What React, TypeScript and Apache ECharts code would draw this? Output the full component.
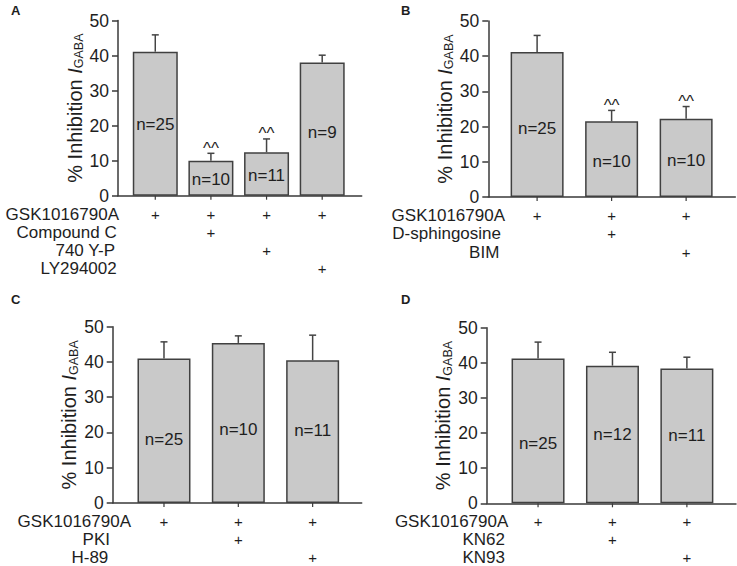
import React, { useEffect, useRef } from 'react';
import * as echarts from 'echarts';

const FONT = '"Liberation Sans", Arial, Helvetica, sans-serif';
const TEXT = '#1e1e1e';
const LINE = '#3a3a3a';

// ---------- DATA ----------
const panelLetters = ['A', 'B', 'C', 'D'];

const conditionsA = ['GSK1016790A', 'Compound C', '740 Y-P', 'LY294002'];
const meansA = [41.1, 10.0, 12.4, 38.0];
const semA = [4.8, 2.1, 3.8, 2.1];
const nA = [25, 10, 11, 9];
const nLabelYA = [20.4, 4.5, 5.8, 18.1];
const sigA = ['', '^^', '^^', ''];
const matrixA = [
  [1, 1, 1, 1],
  [0, 1, 0, 0],
  [0, 0, 1, 0],
  [0, 0, 0, 1],
];

const conditionsB = ['GSK1016790A', 'D-sphingosine', 'BIM'];
const meansB = [41.2, 21.5, 22.2];
const semB = [4.7, 3.1, 3.5];
const nB = [25, 10, 10];
const nLabelYB = [19.5, 10.0, 10.5];
const sigB = ['', '^^', '^^'];
const matrixB = [
  [1, 1, 1],
  [0, 1, 0],
  [0, 0, 1],
];

const conditionsC = ['GSK1016790A', 'PKI', 'H-89'];
const meansC = [41.0, 45.4, 40.5];
const semC = [4.7, 2.0, 7.1];
const nC = [25, 10, 11];
const nLabelYC = [18.1, 20.9, 20.5];
const sigC = ['', '', ''];
const matrixC = [
  [1, 1, 1],
  [0, 1, 0],
  [0, 0, 1],
];

const conditionsD = ['GSK1016790A', 'KN62', 'KN93'];
const meansD = [41.2, 39.2, 38.4];
const semD = [4.7, 3.8, 3.2];
const nD = [25, 12, 11];
const nLabelYD = [16.9, 19.6, 19.4];
const sigD = ['', '', ''];
const matrixD = [
  [1, 1, 1],
  [0, 1, 0],
  [0, 0, 1],
];

const yTicks = { min: 0, max: 50, interval: 10 };

// ---------- LAYOUT ----------
const layouts = [
  { left: 118, top: 20.5, width: 243.7, height: 175.2, xmin: -0.67, xmax: 3.71, barWidth: 45, nameGap: 31,
    letter: [11, 10], rowY: [214.5, 232, 250, 268], labelRight: [119, 116.7, 115, 116.7] },
  { left: 488.3, top: 21, width: 247, height: 176, xmin: -0.655, xmax: 2.66, barWidth: 53, nameGap: 30,
    letter: [401, 10], rowY: [215.7, 233.3, 252.3], labelRight: [505, 501, 499.3] },
  { left: 112.7, top: 326.7, width: 249, height: 176.3, xmin: -0.69, xmax: 2.66, barWidth: 53, nameGap: 26,
    letter: [11, 299], rowY: [521, 539.5, 557], labelRight: [131, 110, 108.3] },
  { left: 486.7, top: 327.7, width: 249.3, height: 175.6, xmin: -0.69, xmax: 2.66, barWidth: 53, nameGap: 28,
    letter: [401, 299], rowY: [521, 539, 557], labelRight: [508.3, 505, 505] },
];

const panels = [
  { conditions: conditionsA, means: meansA, sem: semA, n: nA, nY: nLabelYA, sig: sigA, matrix: matrixA },
  { conditions: conditionsB, means: meansB, sem: semB, n: nB, nY: nLabelYB, sig: sigB, matrix: matrixB },
  { conditions: conditionsC, means: meansC, sem: semC, n: nC, nY: nLabelYC, sig: sigC, matrix: matrixC },
  { conditions: conditionsD, means: meansD, sem: semD, n: nD, nY: nLabelYD, sig: sigD, matrix: matrixD },
];

function txt(x: number, y: number, text: string, size: number, align = 'center') {
  return {
    type: 'text', x, y, z2: 20,
    style: { text, fill: TEXT, fontSize: size, fontFamily: FONT, align, verticalAlign: 'middle', lineHeight: size - 2 },
  };
}

function buildOption() {
  const grid: any[] = [];
  const xAxis: any[] = [];
  const yAxis: any[] = [];
  const series: any[] = [];
  const graphic: any[] = [];

  panels.forEach((p, k) => {
    const L = layouts[k];
    grid.push({ left: L.left, top: L.top, width: L.width, height: L.height, containLabel: false });
    xAxis.push({
      type: 'value', gridIndex: k, min: L.xmin, max: L.xmax,
      axisLine: { show: true, onZero: true, lineStyle: { color: LINE, width: 1.5 } },
      axisTick: { show: false }, axisLabel: { show: false }, splitLine: { show: false },
    });
    yAxis.push({
      type: 'value', gridIndex: k, min: yTicks.min, max: yTicks.max, interval: yTicks.interval,
      axisLine: { show: true, onZero: false, lineStyle: { color: LINE, width: 1.5 } },
      axisTick: { show: true, length: 6, lineStyle: { color: LINE, width: 1.5 } },
      axisLabel: { color: TEXT, fontSize: 17.5, fontFamily: FONT, margin: 9, lineHeight: 15 },
      splitLine: { show: false },
      name: '{a|% Inhibition }{i|I}{s|GABA}',
      nameLocation: 'middle',
      nameGap: L.nameGap,
      nameTextStyle: {
        rich: {
          a: { fontSize: 20, fontFamily: FONT, color: TEXT, lineHeight: 22 },
          i: { fontSize: 20, fontFamily: FONT, color: TEXT, fontStyle: 'italic', lineHeight: 22 },
          s: { fontSize: 12.5, fontFamily: FONT, color: TEXT, verticalAlign: 'bottom' },
        },
      },
    });

    series.push({
      type: 'bar', xAxisIndex: k, yAxisIndex: k, barWidth: L.barWidth, z: 2,
      data: p.means.map((m, i) => [i, m]),
      itemStyle: { color: '#c9c9c9', borderColor: '#404040', borderWidth: 1.5 },
      silent: true,
    });

    series.push({
      type: 'custom', xAxisIndex: k, yAxisIndex: k, clip: false, silent: true, z: 10,
      data: p.means.map((m, i) => [i, m]),
      renderItem: (params: any, api: any) => {
        const idx = params.dataIndex;
        const mean = p.means[idx];
        const top = mean + p.sem[idx];
        const pMean = api.coord([idx, mean]);
        const cx = pMean[0];
        const yMean = pMean[1];
        const yTop = api.coord([idx, top])[1];
        const yN = api.coord([idx, p.nY[idx]])[1];
        const y0 = api.coord([idx, 0])[1];
        const ls = { stroke: '#444444', lineWidth: 1.5, fill: 'none' };
        const children: any[] = [
          { type: 'line', z2: 10, shape: { x1: cx, y1: yMean, x2: cx, y2: yTop }, style: ls },
          { type: 'line', z2: 10, shape: { x1: cx - 3.5, y1: yTop, x2: cx + 3.5, y2: yTop }, style: ls },
          { type: 'line', z2: 10, shape: { x1: cx, y1: y0, x2: cx, y2: y0 + 4 }, style: { stroke: LINE, lineWidth: 1.2, fill: 'none' } },
          txt(cx, yN, 'n=' + p.n[idx], 17),
        ];
        if (p.sig[idx]) children.push(txt(cx, yTop - 5, p.sig[idx], 17));
        p.matrix.forEach((row, r) => {
          if (row[idx]) children.push(txt(cx, L.rowY[r], '+', 15));
        });
        return { type: 'group', children };
      },
    });

    graphic.push({
      type: 'text', x: L.letter[0], y: L.letter[1],
      style: { text: panelLetters[k], fill: TEXT, fontSize: 13, fontWeight: 'bold', fontFamily: FONT, verticalAlign: 'middle' },
    });
    p.conditions.forEach((c, r) => {
      graphic.push({
        type: 'text', x: L.labelRight[r], y: L.rowY[r],
        style: { text: c, fill: TEXT, fontSize: 17, fontFamily: FONT, align: 'right', verticalAlign: 'middle', lineHeight: 14 },
      });
    });
  });

  return { animation: false, backgroundColor: '#ffffff', grid, xAxis, yAxis, series, graphic };
}

export default function App() {
  const ref = useRef<HTMLDivElement>(null);
  useEffect(() => {
    if (!ref.current) return;
    const chart = echarts.init(ref.current, undefined, { renderer: 'svg' });
    chart.setOption(buildOption() as any);
    return () => chart.dispose();
  }, []);
  return (
    <div
      ref={ref}
      style={{ position: 'absolute', left: 0, top: 0, width: 737, height: 566, background: '#fff' }}
    />
  );
}
